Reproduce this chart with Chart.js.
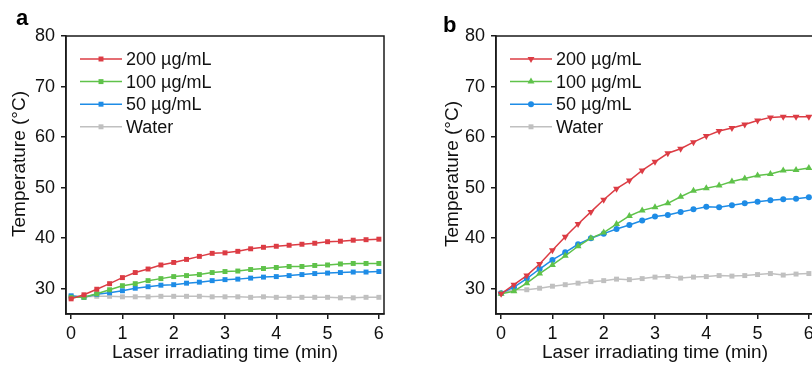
<!DOCTYPE html>
<html>
<head>
<meta charset="UTF-8">
<title>Photothermal heating curves</title>
<script src="https://cdn.jsdelivr.net/npm/chart.js@4/dist/chart.umd.min.js"></script>
<style>
  html, body { margin: 0; padding: 0; background: #fff; overflow: hidden; }
  #wrap { position: relative; width: 812px; height: 365px; overflow: hidden; }
  .panel { position: absolute; top: 0; width: 430px; height: 365px; }
</style>
</head>
<body>
<div id="wrap">
  <div class="panel" style="left:0"><canvas id="chartA" width="430" height="365"></canvas></div>
  <div class="panel" style="left:430px"><canvas id="chartB" width="430" height="365"></canvas></div>
</div>
<script>
// irradiation time points (min)
const times = [0, 0.25, 0.5, 0.75, 1, 1.25, 1.5, 1.75, 2, 2.25, 2.5, 2.75, 3,
               3.25, 3.5, 3.75, 4, 4.25, 4.5, 4.75, 5, 5.25, 5.5, 5.75, 6];
const xTicks = [0, 1, 2, 3, 4, 5, 6];
const yTicks = [30, 40, 50, 60, 70, 80];
const seriesNames = ['200 \u00b5g/mL', '100 \u00b5g/mL', '50 \u00b5g/mL', 'Water'];
const xTitle = 'Laser irradiating time (min)';
const yTitle = 'Temperature (\u00b0C)';

// panel a
const a200 = [28.0, 28.8, 29.9, 31.0, 32.2, 33.2, 33.9, 34.7, 35.2, 35.8, 36.4, 37.0, 37.1,
              37.4, 37.9, 38.2, 38.4, 38.6, 38.8, 39.0, 39.3, 39.4, 39.6, 39.7, 39.8];
const a100 = [28.3, 28.3, 29.0, 29.8, 30.6, 31.0, 31.6, 32.0, 32.4, 32.6, 32.8, 33.2, 33.4,
              33.5, 33.8, 34.0, 34.2, 34.4, 34.4, 34.6, 34.7, 34.9, 35.0, 35.0, 35.0];
const a50  = [28.6, 28.3, 28.9, 29.2, 29.6, 30.1, 30.4, 30.7, 30.8, 31.1, 31.3, 31.6, 31.8,
              31.9, 32.1, 32.3, 32.4, 32.6, 32.8, 33.0, 33.1, 33.2, 33.3, 33.3, 33.4];
const aWater = [28.5, 28.4, 28.5, 28.5, 28.4, 28.4, 28.4, 28.5, 28.5, 28.5, 28.5, 28.4, 28.4,
                28.4, 28.3, 28.4, 28.3, 28.3, 28.3, 28.3, 28.3, 28.2, 28.2, 28.3, 28.3];

// panel b
const b200 = [29.0, 30.8, 32.6, 34.9, 37.6, 40.3, 42.8, 45.2, 47.6, 49.8, 51.4, 53.4, 55.1,
              56.8, 57.7, 59.0, 60.2, 61.2, 61.8, 62.5, 63.3, 63.9, 64.0, 64.0, 64.0];
const b100 = [29.0, 29.5, 31.1, 33.0, 34.7, 36.5, 38.4, 40.0, 41.1, 42.8, 44.4, 45.5, 46.1,
              46.9, 48.2, 49.4, 49.9, 50.4, 51.2, 51.8, 52.4, 52.7, 53.4, 53.5, 53.9];
const b50  = [29.1, 30.3, 32.0, 33.9, 35.7, 37.2, 38.8, 40.0, 40.9, 41.8, 42.6, 43.5, 44.3,
              44.6, 45.2, 45.7, 46.2, 46.1, 46.5, 46.9, 47.2, 47.5, 47.7, 47.8, 48.1];
const bWater = [29.1, 29.8, 29.8, 30.1, 30.5, 30.8, 31.1, 31.4, 31.6, 31.9, 31.8, 32.0, 32.3,
                32.4, 32.1, 32.3, 32.4, 32.6, 32.5, 32.6, 32.8, 33.0, 32.7, 32.9, 33.0];

const colors = ['#dc3c44', '#5fc24a', '#1e8ce6', '#c0c0c0'];
const fontFamily = '"Liberation Sans", Arial, sans-serif';
const axisColor = '#1a1a1a';

function makeSets(seriesList, styles) {
  return seriesList.map((vals, i) => ({
    label: seriesNames[i],
    data: times.map((t, j) => ({ x: t, y: vals[j] })),
    borderColor: colors[i],
    backgroundColor: colors[i],
    borderWidth: 1.5,
    tension: 0,
    pointStyle: styles[i].style,
    rotation: styles[i].rot || 0,
    pointRadius: styles[i].r,
    pointBorderWidth: 0,
    pointBackgroundColor: colors[i]
  }));
}

// frame, panel letter, axis titles and legend
const panelDecor = {
  id: 'panelDecor',
  afterDraw(chart, args, opts) {
    const ctx = chart.ctx, area = chart.chartArea;
    ctx.save();
    ctx.strokeStyle = axisColor;
    ctx.lineWidth = 1.5;
    ctx.strokeRect(area.left, area.top, area.right - area.left, area.bottom - area.top);

    ctx.fillStyle = '#000';
    ctx.textAlign = 'left';
    ctx.textBaseline = 'alphabetic';
    ctx.font = 'bold 22px ' + fontFamily;
    ctx.fillText(opts.letter, opts.letterX, opts.letterY);

    ctx.font = '19px ' + fontFamily;
    ctx.fillStyle = '#111';
    ctx.textAlign = 'center';
    ctx.fillText(xTitle, (area.left + area.right) / 2, 358);
    ctx.save();
    ctx.translate(opts.yTitleX, opts.yTitleY);
    ctx.rotate(-Math.PI / 2);
    ctx.textBaseline = 'middle';
    ctx.fillText(yTitle, 0, 0);
    ctx.restore();

    // legend
    ctx.font = '18px ' + fontFamily;
    ctx.textAlign = 'left';
    ctx.textBaseline = 'middle';
    chart.data.datasets.forEach((ds, i) => {
      const y = 59 + i * 22.6;
      const x0 = area.left + 14, x1 = area.left + 56;
      ctx.strokeStyle = ds.borderColor;
      ctx.lineWidth = 1.5;
      ctx.beginPath();
      ctx.moveTo(x0, y);
      ctx.lineTo(x1, y);
      ctx.stroke();
      ctx.fillStyle = ds.borderColor;
      Chart.helpers.drawPoint(ctx, {
        pointStyle: ds.pointStyle, rotation: ds.rotation,
        radius: ds.pointRadius, borderWidth: 0
      }, (x0 + x1) / 2, y);
      ctx.fillStyle = '#111';
      ctx.fillText(ds.label, area.left + 60, y + 1);
    });
    ctx.restore();
  }
};

function makeChart(id, datasets, decor) {
  return new Chart(document.getElementById(id), {
    type: 'line',
    data: { datasets },
    plugins: [panelDecor],
    options: {
      responsive: false,
      animation: false,
      layout: { padding: { top: 36, right: 46, left: 0, bottom: 0 } },
      plugins: {
        legend: { display: false },
        tooltip: { enabled: false },
        panelDecor: decor
      },
      scales: {
        x: {
          type: 'linear',
          min: -0.1,
          max: 6.1,
          afterBuildTicks: s => { s.ticks = xTicks.map(v => ({ value: v })); },
          afterFit: s => { s.height = 51; },
          grid: { drawOnChartArea: false, drawTicks: true, tickLength: 5, color: axisColor, lineWidth: 1.5 },
          border: { color: axisColor, width: 1.5 },
          ticks: { font: { size: 18, family: fontFamily }, color: '#111', padding: 4, maxRotation: 0, autoSkip: false }
        },
        y: {
          min: 25,
          max: 80,
          afterBuildTicks: s => { s.ticks = yTicks.map(v => ({ value: v })); },
          afterFit: s => { s.width = 66; },
          grid: { drawOnChartArea: false, drawTicks: true, tickLength: 5, color: axisColor, lineWidth: 1.5 },
          border: { color: axisColor, width: 1.5 },
          ticks: { font: { size: 18, family: fontFamily }, color: '#111', padding: 6 }
        }
      }
    }
  });
}

const squares = [{ style: 'rect', r: 3.5 }, { style: 'rect', r: 3.5 }, { style: 'rect', r: 3.5 }, { style: 'rect', r: 3.5 }];
const mixed = [{ style: 'triangle', rot: 180, r: 4 }, { style: 'triangle', r: 4 }, { style: 'circle', r: 3 }, { style: 'rect', r: 3.5 }];

makeChart('chartA', makeSets([a200, a100, a50, aWater], squares),
  { letter: 'a', letterX: 16, letterY: 25, yTitleX: 20, yTitleY: 164 });
makeChart('chartB', makeSets([b200, b100, b50, bWater], mixed),
  { letter: 'b', letterX: 13, letterY: 32, yTitleX: 23, yTitleY: 174 });
</script>
</body>
</html>
